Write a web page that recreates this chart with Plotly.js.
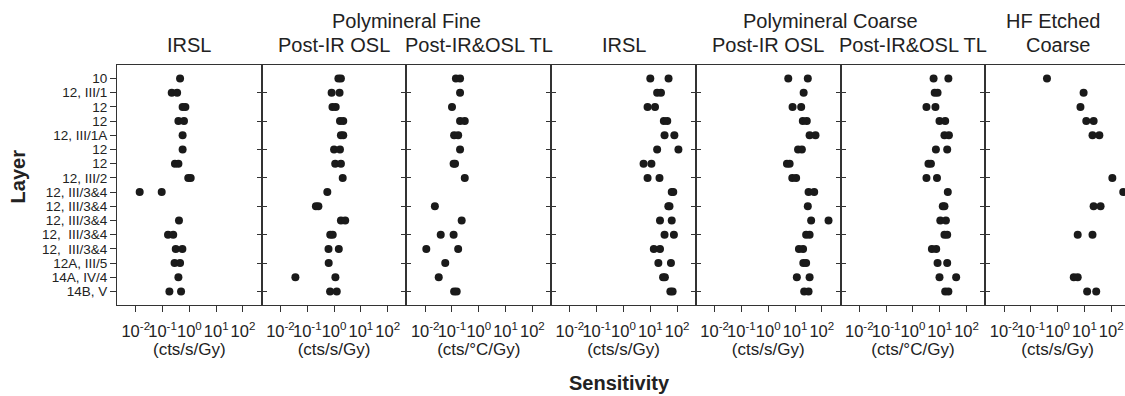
<!DOCTYPE html>
<html>
<head>
<meta charset="utf-8">
<script src="https://cdn.plot.ly/plotly-3.0.1.min.js"></script>
<style>
html,body{margin:0;padding:0;overflow:hidden;background:#fff;}
#chart{width:1130px;height:396px;}
</style>
</head>
<body>
<div id="chart"></div>
<script>
// Layer labels (top to bottom)
const layers = ["10","12, III/1","12","12","12, III/1A","12","12","12, III/2",
  "12, III/3&4","12, III/3&4","12, III/3&4","12,\u00a0 III/3&4","12,\u00a0 III/3&4",
  "12A, III/5","14A, IV/4","14B, V"];

// Sensitivity values, two measurements per layer (null = no point)
const fineIRSL_a = [0.45,0.22,0.56,0.39,0.56,0.56,0.29,0.91,0.014,null,0.41,0.16,0.31,0.28,0.39,0.18];
const fineIRSL_b = [null,0.35,0.71,0.63,null,null,0.39,1.12,0.093,null,null,0.25,0.55,0.45,null,0.49];

const fineOSL_a = [1.45,0.81,0.87,1.66,1.8,1.0,1.1,2.1,0.56,0.21,1.8,0.72,0.62,0.63,0.036,0.71];
const fineOSL_b = [1.8,1.6,1.15,2.2,2.2,1.66,1.8,null,null,0.26,2.6,0.89,1.5,null,1.12,1.26];

const fineTL_a = [0.14,0.2,0.1,0.2,0.12,0.2,0.115,0.3,null,0.023,0.23,0.038,0.011,0.056,0.032,0.12];
const fineTL_b = [0.2,null,null,0.3,0.17,null,0.13,null,null,null,null,0.115,0.17,null,null,0.15];

const coarseIRSL_a = [10,18,7.9,32,34,18,5.6,7.9,63,47,23,34,13.5,20,30,56];
const coarseIRSL_b = [48,25,15,43,79,112,11,22,72,52,63,76,23,59,35,68];

const coarseOSL_a = [5.6,21,8.1,19.5,35,13,5.0,7.9,32,30,40,26,14,20.4,11.7,22];
const coarseOSL_b = [30,null,17,27.5,58,18,6.3,11,52,null,178,35,20,26,35,32];

const coarseTL_a = [5.9,6.5,3.2,9.8,15,7.2,3.8,3.2,20,13,10.5,15,5.1,8.3,9.8,16];
const coarseTL_b = [21,8.3,6.9,16,22,19,4.7,7.9,null,15,17,19,7.4,19,41,21];

const hf_a = [0.4,9.3,7.1,11.7,20,null,null,110,280,22,null,5.6,null,null,4.0,12.6];
const hf_b = [null,null,null,22,36,null,null,null,null,40,null,20,null,null,5.6,27.5];

const panelTitles = ["IRSL","Post-IR OSL","Post-IR&OSL TL","IRSL","Post-IR OSL","Post-IR&OSL TL","Coarse"];
const unitLabels = ["(cts/s/Gy)","(cts/s/Gy)","(cts/\u00b0C/Gy)","(cts/s/Gy)","(cts/s/Gy)","(cts/\u00b0C/Gy)","(cts/s/Gy)"];
const xTickVals = [0.01,0.1,1,10,100];
const xTickText = ["10<sup>-2</sup>","10<sup>-1</sup>","10<sup>0</sup>","10<sup>1</sup>","10<sup>2</sup>"];

const series = [
  [fineIRSL_a, fineIRSL_b],
  [fineOSL_a, fineOSL_b],
  [fineTL_a, fineTL_b],
  [coarseIRSL_a, coarseIRSL_b],
  [coarseOSL_a, coarseOSL_b],
  [coarseTL_a, coarseTL_b],
  [hf_a, hf_b]
];

const rowIdx = layers.map((_, i) => i);
const oddRows = rowIdx.filter(i => i % 2 === 1);
const FONT = "Liberation Sans, Arial, sans-serif";
const yRange = [15.95, -0.95];
const axisColor = "#333";

const traces = [];
const layout = {
  width: 1130, height: 396,
  margin: {l: 117, r: 0, t: 64.5, b: 91},
  paper_bgcolor: "#fff", plot_bgcolor: "#fff",
  showlegend: false,
  font: {family: FONT, color: "#222"},
  annotations: []
};

const n = series.length;
for (let k = 0; k < n; k++) {
  const sfx = k === 0 ? "" : String(k + 1);
  const xs = series[k][0].concat(series[k][1]);
  const ys = rowIdx.concat(rowIdx);
  traces.push({
    type: "scatter", mode: "markers",
    x: xs, y: ys,
    xaxis: "x" + sfx, yaxis: "y" + sfx,
    marker: {color: "#1a1a1a", size: 8},
    hoverinfo: "skip"
  });
  layout["xaxis" + sfx] = {
    type: "log", range: [-2.7, 2.7],
    domain: [k / n, (k + 1) / n],
    anchor: "y" + sfx,
    tickvals: xTickVals, ticktext: xTickText, tickangle: 0,
    ticks: "outside", ticklen: 6, tickcolor: axisColor, tickwidth: 1,
    ticklabelstandoff: 5,
    showgrid: false, zeroline: false,
    showline: true, mirror: true, linecolor: axisColor, linewidth: 1,
    tickfont: {family: FONT, size: 16.5, color: "#222"},
    title: {text: unitLabels[k], font: {family: FONT, size: 17, color: "#222"}, standoff: 1}
  };
  if (k === 0) {
    layout.yaxis = {
      range: yRange, anchor: "x",
      tickvals: rowIdx, ticktext: layers,
      ticks: "outside", ticklen: 6, tickcolor: axisColor,
      showgrid: false, zeroline: false,
      showline: true, mirror: true, linecolor: axisColor, linewidth: 1,
      tickfont: {family: FONT, size: 13.5, color: "#222"}
    };
  } else {
    layout["yaxis" + sfx] = {
      range: yRange, anchor: "x" + sfx,
      tickvals: oddRows, showticklabels: false,
      ticks: "inside", ticklen: 5, tickcolor: axisColor,
      showgrid: false, zeroline: false,
      showline: true, mirror: "ticks", linecolor: axisColor, linewidth: 1
    };
  }
  layout.annotations.push({
    xref: "x" + sfx + " domain", yref: "paper", x: 0.5, y: 1,
    xanchor: "center", yanchor: "middle", yshift: 20.5, showarrow: false,
    text: panelTitles[k], font: {family: FONT, size: 20, color: "#222"}
  });
}

// right-side inward ticks of the first panel
traces.push({type: "scatter", mode: "markers", x: [], y: [], xaxis: "x", yaxis: "y8", hoverinfo: "skip"});
layout.yaxis8 = {
  overlaying: "y", side: "right", anchor: "x", range: yRange,
  tickvals: oddRows, showticklabels: false,
  ticks: "inside", ticklen: 5, tickcolor: axisColor,
  showgrid: false, zeroline: false, showline: false
};

// group titles
layout.annotations.push(
  {xref: "x2 domain", yref: "paper", x: 1, y: 1, xanchor: "center", yanchor: "middle", yshift: 44.5, showarrow: false,
   text: "Polymineral Fine", font: {family: FONT, size: 20, color: "#222"}},
  {xref: "x5 domain", yref: "paper", x: 0.93, y: 1, xanchor: "center", yanchor: "middle", yshift: 44.5, showarrow: false,
   text: "Polymineral Coarse", font: {family: FONT, size: 20, color: "#222"}},
  {xref: "x7 domain", yref: "paper", x: 0.47, y: 1, xanchor: "center", yanchor: "middle", yshift: 44.5, showarrow: false,
   text: "HF Etched", font: {family: FONT, size: 20, color: "#222"}},
  {xref: "paper", yref: "paper", x: -0.0977, y: 0.536, xanchor: "center", yanchor: "middle", textangle: -90,
   showarrow: false, text: "<b>Layer</b>", font: {family: FONT, size: 20, color: "#222"}},
  {xref: "paper", yref: "paper", x: 0.4965, y: -0.324, xanchor: "center", yanchor: "middle",
   showarrow: false, text: "<b>Sensitivity</b>", font: {family: FONT, size: 20, color: "#222"}}
);

Plotly.newPlot("chart", traces, layout, {staticPlot: true, displayModeBar: false});
</script>
</body>
</html>
